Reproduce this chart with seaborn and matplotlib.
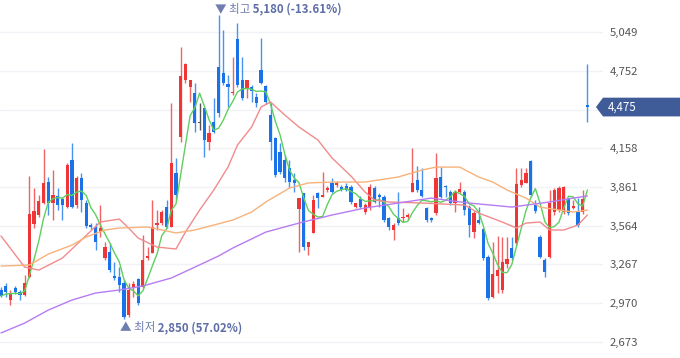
import numpy as np
import pandas as pd
import seaborn as sns
import matplotlib.pyplot as plt
import matplotlib.transforms as mtransforms
from matplotlib.patches import Polygon

sns.set_theme(style="white")
plt.rcParams["font.family"] = ["Noto Sans CJK KR", "DejaVu Sans"]
plt.rcParams["axes.unicode_minus"] = False

# 일봉 데이터
opens = [3070, 3101, 2993, 3085, 3054, 3031, 3170, 3577, 3646, 3738,
         3899, 3738, 3792, 3769, 3707, 4068, 3723, 3930, 3738, 3569,
         3554, 3515, 3316, 3362, 3177, 3170, 3124, 2878, 3093, 3154,
         3093, 3316, 3354, 3569, 3584, 3707, 3554, 3968, 4245, 4683,
         4629, 4583, 4352, 4468, 4206, 4360, 4782, 4736, 4652, 4583,
         4998, 4683, 4613, 4629, 4552, 4759, 4637, 4414, 4237, 4130,
         4068, 4007, 3915, 3692, 3815, 3400, 3508, 3815, 3784, 3838,
         3892, 3876, 3861, 3869, 3861, 3707, 3769, 3669, 3707, 3853,
         3799, 3784, 3623, 3531, 3623, 3623, 3630, 3822, 3915, 3838,
         3700, 3623, 3661, 3938, 3869, 3822, 3738, 3822, 3822, 3707,
         3515, 3607, 3538, 3323, 3016, 3177, 3070, 3269, 3392, 3431,
         3876, 3892, 4061, 3723, 3477, 3300, 3323, 3669, 3684, 3669,
         3776, 3700, 3669, 3669, 4491]
highs = [3093, 3124, 3070, 3101, 3070, 3185, 3945, 3853, 3799, 4153,
         3938, 3991, 3853, 3784, 4045, 4199, 3945, 3968, 3761, 3584,
         3584, 3723, 3438, 3431, 3285, 3246, 3147, 3124, 3139, 3162,
         3492, 3400, 3761, 3684, 3684, 3761, 4506, 4084, 4936, 4813,
         4683, 4660, 4506, 4475, 4337, 4544, 5180, 5067, 4721, 4859,
         5120, 4859, 4683, 4644, 4583, 5005, 4644, 4506, 4245, 4199,
         4107, 4068, 3968, 3776, 3815, 3438, 3799, 3822, 3976, 3869,
         3930, 3907, 3876, 3892, 3876, 3738, 3792, 3738, 3884, 3869,
         3815, 3799, 3630, 3584, 3822, 3700, 3661, 4160, 4022, 4007,
         3707, 3630, 4122, 4014, 3876, 3838, 3838, 3899, 3838, 3723,
         3677, 3707, 3546, 3339, 3438, 3485, 3477, 3477, 3477, 4007,
         4007, 4007, 4068, 3761, 3492, 3316, 3838, 3853, 3869, 3869,
         3776, 3761, 3776, 3838, 4806]
lows = [3016, 3016, 2955, 3039, 2993, 3024, 3162, 3546, 3630, 3730,
        3646, 3607, 3684, 3607, 3700, 3700, 3700, 3669, 3546, 3538,
        3377, 3477, 3300, 3208, 3147, 3054, 2850, 2862, 3016, 2955,
        3085, 3300, 3354, 3531, 3569, 3546, 3554, 3761, 4206, 4660,
        4514, 4283, 4299, 4091, 4145, 4276, 4398, 4644, 4475, 4567,
        4629, 4529, 4544, 4514, 4475, 4652, 4498, 4068, 3938, 3961,
        3899, 3853, 3822, 3362, 3377, 3339, 3508, 3700, 3784, 3822,
        3815, 3861, 3830, 3830, 3730, 3700, 3700, 3654, 3684, 3738,
        3707, 3592, 3531, 3454, 3569, 3592, 3607, 3822, 3822, 3784,
        3592, 3592, 3646, 3776, 3784, 3723, 3669, 3815, 3646, 3477,
        3469, 3577, 3300, 2993, 3008, 3047, 3047, 3239, 3300, 3415,
        3861, 3892, 3784, 3661, 3316, 3170, 3316, 3646, 3669, 3654,
        3646, 3692, 3554, 3654, 4360]
closes = [3024, 3054, 3047, 3054, 3031, 3124, 3654, 3677, 3753, 3892,
          3738, 3799, 3723, 3723, 4030, 3707, 3930, 3761, 3561, 3554,
          3438, 3546, 3400, 3223, 3162, 3108, 2862, 3070, 3116, 2970,
          3300, 3331, 3554, 3584, 3669, 3554, 4045, 3799, 4713, 4806,
          4683, 4352, 4352, 4222, 4276, 4283, 4429, 4660, 4629, 4590,
          4644, 4544, 4683, 4598, 4506, 4660, 4514, 4206, 3953, 3976,
          3930, 3899, 3892, 3776, 3400, 3438, 3761, 3776, 3799, 3853,
          3822, 3892, 3838, 3838, 3746, 3738, 3707, 3723, 3861, 3746,
          3784, 3607, 3554, 3569, 3584, 3630, 3646, 3892, 3838, 3792,
          3607, 3607, 3930, 3784, 3861, 3738, 3822, 3846, 3684, 3569,
          3661, 3584, 3316, 3008, 3193, 3223, 3285, 3308, 3316, 3884,
          3915, 3968, 3799, 3677, 3323, 3208, 3738, 3838, 3853, 3861,
          3661, 3715, 3569, 3769, 4475]

# 이동평균선 (20/60/120일, 그림에서 읽은 점)
ma20_idx = [0, 5, 8, 13, 17, 21, 25, 27, 29, 33, 37, 39, 42, 45, 48, 50, 53, 55, 57,
            60, 63, 67, 70, 74, 77, 79, 82, 89, 98, 101, 106, 109, 111, 114, 116,
            119, 122, 124]
ma20 = [3485, 3246, 3223, 3316, 3454, 3592, 3615, 3546, 3469, 3400, 3385, 3515, 3684,
        3838, 4014, 4183, 4322, 4475, 4514, 4414, 4322, 4222, 4084, 3945, 3822, 3761,
        3746, 3738, 3723, 3661, 3592, 3546, 3584, 3592, 3531, 3531, 3569, 3646]
ma60_idx = [0, 6, 10, 15, 18, 22, 25, 31, 34, 37, 41, 45, 49, 53, 56, 61, 65, 70, 77,
            84, 89, 92, 97, 99, 101, 104, 107, 111, 114, 118, 121, 124]
ma60 = [3254, 3262, 3346, 3415, 3477, 3531, 3546, 3554, 3531, 3508, 3531, 3569, 3607,
        3669, 3746, 3853, 3892, 3899, 3899, 3938, 3991, 4014, 4014, 3976, 3938, 3899,
        3838, 3776, 3707, 3684, 3669, 3684]
ma120_idx = [0, 5, 10, 15, 20, 25, 30, 36, 41, 46, 49, 56, 63, 70, 77, 84, 91, 94, 99,
             108, 116, 121, 124]
ma120 = [2740, 2816, 2916, 2993, 3047, 3070, 3101, 3162, 3246, 3331, 3392, 3515, 3584,
         3646, 3700, 3738, 3776, 3761, 3738, 3707, 3746, 3776, 3792]

yticks = [2673, 2970, 3267, 3564, 3861, 4158, 4455, 4752, 5049]
last_price = 4475
hi_text = ("최고", "5,180 (-13.61%)")
lo_text = ("최저", "2,850 (57.02%)")

RED = "#ef3535"
BLUE = "#1b72e8"
GREY = "#555555"
RED_WICK = "#f26262"
BLUE_WICK = "#4793ef"

df = pd.DataFrame({"open": opens, "high": highs, "low": lows, "close": closes})
df["idx"] = np.arange(len(df))
df["ma5"] = df["close"].rolling(5, min_periods=1).mean()

fig = plt.figure(figsize=(6.8, 3.58), dpi=100)
ax = fig.add_axes([0, 0, 603 / 680, 1])

ymin, ymax = 2548, 5297
ax.set_ylim(ymin, ymax)
ax.set_xlim(-0.21, 127.3)

# 캔들
up = df.close > df.open
down = df.close < df.open
col = np.where(up, RED, np.where(down, BLUE, GREY))
wick_col = np.where(up, RED_WICK, np.where(down, BLUE_WICK, GREY))
ax.vlines(df.idx, df.low, df.high, colors=wick_col, lw=1, zorder=2)
body_lo = np.minimum(df.open, df.close)
body_h = np.maximum(np.abs(df.close - df.open), 9)
ax.bar(df.idx, body_h, bottom=body_lo, width=0.68, color=col, linewidth=0, zorder=3)

# 이동평균선
sns.lineplot(x=df.idx, y=df.ma5, ax=ax, color="#5fcf5f", lw=1, zorder=4)
sns.lineplot(x=ma20_idx, y=ma20, ax=ax, color="#f28b8b", lw=1, zorder=4)
sns.lineplot(x=ma60_idx, y=ma60, ax=ax, color="#f7b27a", lw=1, zorder=4)
sns.lineplot(x=ma120_idx, y=ma120, ax=ax, color="#b67cf2", lw=1, zorder=4)

# 축
ax.set_yticks(yticks)
ax.set_yticklabels(["" if abs(t - last_price) < 100 else f"{t:,}" for t in yticks])
ax.yaxis.tick_right()
ax.tick_params(axis="y", length=0, pad=5, labelsize=8.2, labelcolor="#555555")
ax.set_xticks([])
ax.grid(axis="y", color="#f1f2f7", lw=1)
ax.set_axisbelow(True)
for s in ax.spines.values():
    s.set_visible(False)
ax.set_xlabel("")
ax.set_ylabel("")

# 최고/최저 표시
i_hi = int(df.high.idxmax())
i_lo = int(df.low.idxmin())
t1 = ax.annotate("▼ " + hi_text[0], xy=(i_hi, df.high[i_hi]), xytext=(-4, 6),
                 textcoords="offset pixels", ha="left", va="center",
                 fontsize=8.3, color="#6f7db0", annotation_clip=False)
ax.annotate(" " + hi_text[1], xy=(1, 0.5), xycoords=t1, ha="left", va="center",
            fontsize=8.3, fontweight="bold", color="#5f6ea8")
t2 = ax.annotate("▲ " + lo_text[0], xy=(i_lo, df.low[i_lo]), xytext=(-4, -9),
                 textcoords="offset pixels", ha="left", va="center",
                 fontsize=8.3, color="#6f7db0", annotation_clip=False)
ax.annotate(" " + lo_text[1], xy=(1, 0.5), xycoords=t2, ha="left", va="center",
            fontsize=8.3, fontweight="bold", color="#5f6ea8")

# 현재가 라벨
tr = mtransforms.blended_transform_factory(fig.transFigure, ax.transData)
h = 72
tag = Polygon([(596 / 680, last_price), (603 / 680, last_price + h), (1.0, last_price + h),
               (1.0, last_price - h), (603 / 680, last_price - h)],
              closed=True, transform=tr, facecolor="#3f5b98", edgecolor="none",
              clip_on=False, zorder=10)
fig.add_artist(tag)
fig.text(608 / 680, last_price, f"{last_price:,}", transform=tr, ha="left", va="center",
         fontsize=8.3, color="white", zorder=11)

plt.savefig("out.png", dpi=100)
plt.close()
